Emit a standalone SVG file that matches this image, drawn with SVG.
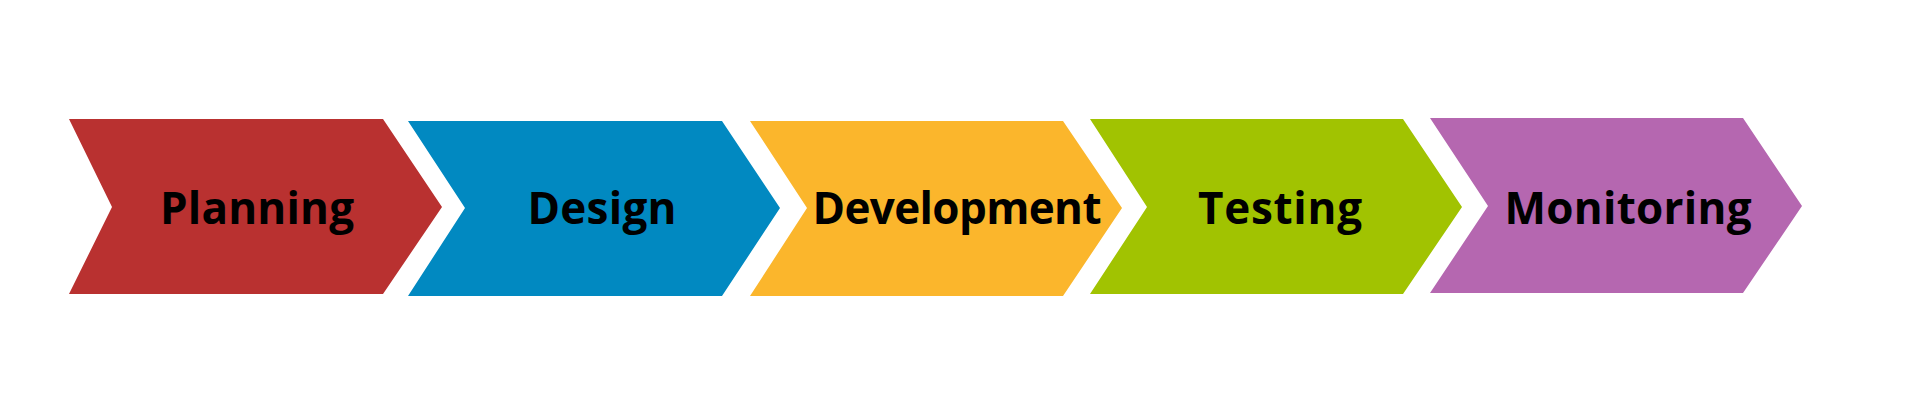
<svg xmlns="http://www.w3.org/2000/svg" width="1920" height="414" viewBox="0 0 1920 414">
<style>
.lbl{font-family:"Open Sans","Liberation Sans",sans-serif;font-weight:700;font-size:44px;fill:#000;text-anchor:middle}
</style>
<rect width="1920" height="414" fill="#fff"/>
<g id="planning">
<polygon points="69,119 383,119 442,207 383,294 69,294 112,207" fill="#B93130"/>
<text class="lbl" x="257" y="224" textLength="194" lengthAdjust="spacing">Planning</text>
</g>
<g id="design">
<polygon points="408,121 722,121 780,208 722,296 408,296 465,208" fill="#0189C1"/>
<text class="lbl" x="602" y="224" textLength="149" lengthAdjust="spacing">Design</text>
</g>
<g id="development">
<polygon points="750,121 1063,121 1122,208 1063,296 750,296 807,208" fill="#FBB62C"/>
<text class="lbl" x="957" y="224" textLength="289" lengthAdjust="spacing">Development</text>
</g>
<g id="testing">
<polygon points="1090,119 1403,119 1462,207 1403,294 1090,294 1147,207" fill="#A1C301"/>
<text class="lbl" x="1280" y="224" textLength="164" lengthAdjust="spacing">Testing</text>
</g>
<g id="monitoring">
<polygon points="1430,118 1743,118 1802,206 1743,293 1430,293 1488,206" fill="#B567B0"/>
<text class="lbl" x="1628" y="224" textLength="247" lengthAdjust="spacing">Monitoring</text>
</g>
<g id="connectors"></g>
</svg>
